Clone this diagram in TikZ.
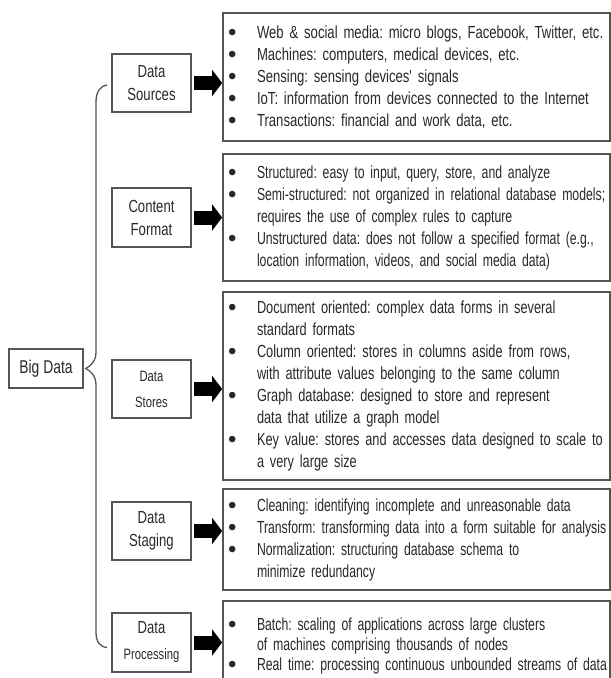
\documentclass[tikz,border=0pt]{standalone}
\usepackage{fontspec}
\setmainfont{Liberation Sans}
\newfontfamily\squeezed[FakeStretch=0.75]{Liberation Sans}
\newfontfamily\narrowed[FakeStretch=0.70]{Liberation Sans}
\newfontfamily\midnarrow[FakeStretch=0.73]{Liberation Sans}
\usetikzlibrary{arrows.meta, calc}
\definecolor{framegray}{RGB}{85,85,85}
\definecolor{inkgray}{RGB}{40,40,40}
\newcommand{\bpt}{\makebox[32pt][l]{\hspace{3pt}\raisebox{-2pt}{\smash{\rmfamily\fontsize{24}{20}\selectfont\textbullet}}}}
\newcommand{\cont}{\hspace*{32pt}}
\frenchspacing

\begin{document}
\begin{tikzpicture}[
        x=1pt, y=-1pt,
        stage/.style={rectangle, draw=framegray, line width=1.6pt, minimum width=79pt, minimum height=58pt, align=center, text=inkgray, font=\squeezed\fontsize{17.5}{23}\selectfont},
        infobox/.style={rectangle, draw=framegray, line width=1.8pt, text width=383pt, inner sep=2pt, align=left, text=inkgray, font=\frenchspacing\squeezed\fontsize{17.5}{22}\selectfont},
        arrow/.style={draw, line width=14pt, -{Triangle[length=10pt, width=26pt]}, shorten <=2pt},
        brace/.style={draw=framegray, line width=1.3pt}
    ]
        \useasboundingbox (0,0) rectangle (611,678);
        \clip (0,0) rectangle (611,678);

        \node [stage, minimum width=74pt, minimum height=39pt, font=\squeezed\fontsize{18.5}{22}\selectfont] (bigdata) at (46,368.5) {Big Data};

        \node [stage] (src) at (151.5,83) {Data\\Sources};
        \node [stage, minimum height=59pt] (fmt) at (151.5,217.5) {Content\\Format};
        \node [stage, font=\squeezed\fontsize{15}{20}\selectfont] (sto) at (151.5,389) {Data\\[6pt]Stores};
        \node [stage] (stg) at (151.5,531) {Data\\Staging};
        \node [stage, minimum height=59pt] (proc) at (151.5,642.5) {Data\\[3pt]{\fontsize{15}{18}\selectfont Processing}};

        \node [infobox, minimum height=128pt] (srclist) at (416.5,77) {%
            \bpt Web \& social media: micro blogs, Facebook, Twitter, etc.\\
            \bpt Machines: computers, medical devices, etc.\\
            \bpt Sensing: sensing devices' signals\\
            \bpt IoT: information from devices connected to the Internet\\
            \bpt Transactions: financial and work data, etc.};
        \node [infobox, minimum height=127pt, font=\frenchspacing\narrowed\fontsize{17.5}{22}\selectfont] (fmtlist) at (416.5,217.5) {%
            \bpt Structured: easy to input, query, store, and analyze\\
            \bpt Semi-structured: not organized in relational database models;\\
            \cont requires the use of complex rules to capture\\
            \bpt Unstructured data: does not follow a specified format (e.g.,\\
            \cont location information, videos, and social media data)};
        \node [infobox, minimum height=188pt, font=\frenchspacing\midnarrow\fontsize{17.5}{22}\selectfont] (stolist) at (416.5,386) {%
            \bpt Document oriented: complex data forms in several\\
            \cont standard formats\\
            \bpt Column oriented: stores in columns aside from rows,\\
            \cont with attribute values belonging to the same column\\
            \bpt Graph database: designed to store and represent\\
            \cont data that utilize a graph model\\
            \bpt Key value: stores and accesses data designed to scale to\\
            \cont a very large size};
        \node [infobox, minimum height=101pt, font=\frenchspacing\narrowed\fontsize{17.5}{22}\selectfont] (stglist) at (416.5,539.5) {%
            \bpt Cleaning: identifying incomplete and unreasonable data\\
            \bpt Transform: transforming data into a form suitable for analysis\\
            \bpt Normalization: structuring database schema to\\
            \cont minimize redundancy};
        \node [infobox, minimum height=90pt, anchor=north, font=\frenchspacing\narrowed\fontsize{17.5}{20}\selectfont] (proclist) at (416.5,600) {%
            \bpt Batch: scaling of applications across large clusters\\
            \cont of machines comprising thousands of nodes\\
            \bpt Real time: processing continuous unbounded streams of data};

        \path [arrow] (src.east) -- (srclist.west |- src.east);
        \path [arrow] (fmt.east) -- (fmtlist.west |- fmt.east);
        \path [arrow] (sto.east) -- (stolist.west |- sto.east);
        \path [arrow] (stg.east) -- (stglist.west |- stg.east);
        \path [arrow] (proc.east) -- (proclist.west |- proc.east);

        % brace from Big Data to the five stages
        \coordinate (tip) at ($(bigdata.east)+(2,0)$);
        \path [brace] ([shift={(-4,2)}]src.west) .. controls (100,86) and (96,92) .. (96,102)
            -- (96,352) .. controls (96,362) and (90,366) .. (tip)
            .. controls (90,371) and (96,375) .. (96,385)
            -- (96,632) .. controls (96,642) and (100,647) .. ([shift={(-4,5)}]proc.west);
    \end{tikzpicture}
\end{document}
